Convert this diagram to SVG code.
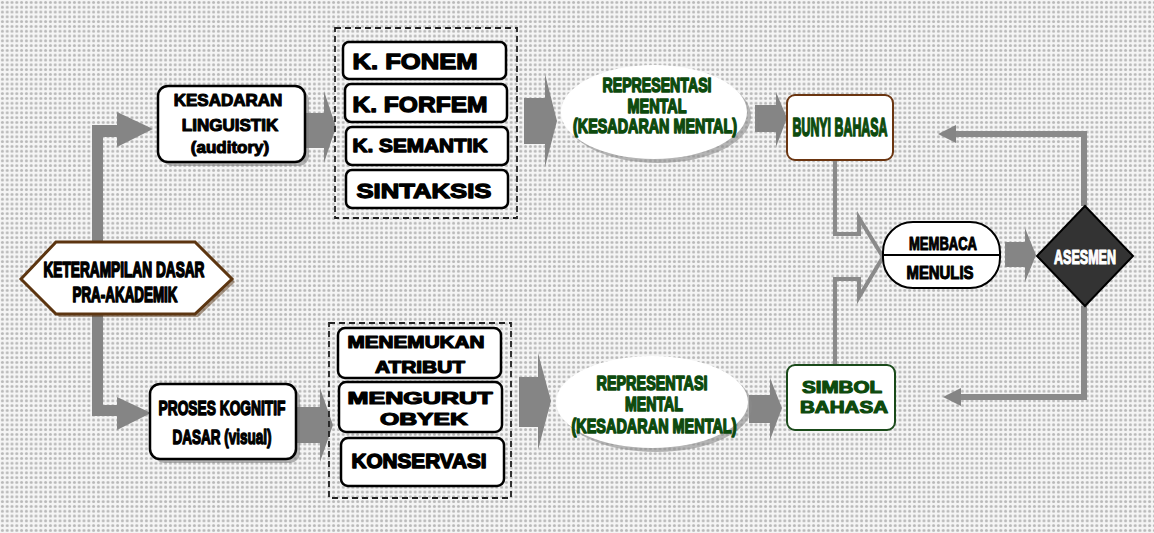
<svg xmlns="http://www.w3.org/2000/svg" width="1154" height="533" viewBox="0 0 1154 533">
<defs>
<pattern id="dots" width="4.8" height="4.8" patternUnits="userSpaceOnUse">
<rect width="4.8" height="4.8" fill="#f5f5f5"/>
<circle cx="2.4" cy="2.4" r="1.5" fill="#b8b8b8"/>
</pattern>
</defs>
<style>
.box{fill:#fff;stroke:#000;stroke-width:2.5}
.shd{fill:#7a7a7a;opacity:0.55}
.arr{fill:#858585}
.ln{fill:none;stroke:#8a8a8a}
.t{font-family:"Liberation Sans",Arial,sans-serif;font-weight:bold;text-anchor:middle;fill:#000;stroke:#000;stroke-width:1;stroke-linejoin:round}
.g{fill:#0d4a0d;stroke:#0d4a0d}
.w{fill:#fff;stroke:#fff}
</style>
<rect width="1154" height="533" fill="url(#dots)"/>

<g id="connectors">
<path class="arr" d="M92,246 L92,125 L117,125 L117,112 L153,129 L117,147 L117,137 L103,137 L103,246 Z"/>
<path class="arr" d="M92,312 L92,416 L117,416 L117,430 L151,413 L117,397 L117,405 L103,405 L103,312 Z"/>
<path class="arr" d="M305,113 L324,113 L324,91 L336,127 L324,163 L324,148 L305,148 Z"/>
<path class="arr" d="M524,98 L545,98 L545,74 L557,121 L545,167 L545,144 L524,144 Z"/>
<path class="arr" d="M755,105 L776,105 L776,92 L787,118 L776,147 L776,132 L755,132 Z"/>
<path class="arr" d="M296,407 L320,407 L320,388 L333,425 L320,462 L320,443 L296,443 Z"/>
<path class="arr" d="M519,377 L538,377 L538,353 L551,401 L538,450 L538,427 L519,427 Z"/>
<path class="arr" d="M749,395 L770,395 L770,378 L782,408 L770,440 L770,423 L749,423 Z"/>
<path class="ln" stroke-width="4" d="M835,160 L835,234 L859,234 L859,218 L883,257 L859,297 L859,279 L835,279 L835,366"/>
<path class="arr" d="M1005,242 L1025,242 L1025,228 L1036,255 L1025,282 L1025,267 L1005,267 Z"/>
<path class="ln" stroke-width="6" d="M1084,206 L1084,134 L955,134"/>
<path class="arr" d="M956,125 L938,134 L956,143 Z"/>
<path class="ln" stroke-width="6" d="M1084,306 L1084,397 L960,397"/>
<path class="arr" d="M961,388 L943,397 L961,406 Z"/>
</g>

<g id="hexagon">
<polygon points="24,282 59,245 198,245 235,282 198,317 59,317" fill="#5a3a1a" opacity="0.5"/>
<polygon points="21,279 56,242 195,242 232,279 195,314 56,314" fill="#fff" stroke="#5c3510" stroke-width="3"/>
<text class="t" x="124" y="277" font-size="22" textLength="161" lengthAdjust="spacingAndGlyphs" style="stroke-width:1.7">KETERAMPILAN DASAR</text>
<text class="t" x="125" y="302" font-size="22" textLength="105" lengthAdjust="spacingAndGlyphs" style="stroke-width:1.7">PRA-AKADEMIK</text>
</g>

<g id="kesadaran">
<rect class="shd" x="162" y="90" width="147" height="76" rx="10"/>
<rect class="box" x="158" y="86" width="147" height="76" rx="10"/>
<text class="t" x="228" y="106" font-size="17" style="stroke-width:1.1">KESADARAN</text>
<text class="t" x="230" y="131" font-size="17" style="stroke-width:1.1">LINGUISTIK</text>
<text class="t" x="230" y="153" font-size="17" style="stroke-width:1.1">(auditory)</text>
</g>

<g id="proses">
<rect class="shd" x="154" y="388" width="146" height="75" rx="10"/>
<rect class="box" x="150" y="384" width="146" height="75" rx="10"/>
<text class="t" x="222" y="415" font-size="21" textLength="127" lengthAdjust="spacingAndGlyphs" style="stroke-width:1.5">PROSES KOGNITIF</text>
<text class="t" x="222" y="444" font-size="21" textLength="99" lengthAdjust="spacingAndGlyphs" style="stroke-width:1.5">DASAR (visual)</text>
</g>

<g id="group-linguistik">
<rect x="335" y="28" width="182" height="190" fill="none" stroke="#222" stroke-width="1.8" stroke-dasharray="6,4"/>
</g>
<g id="k-fonem">
<rect class="box" x="343" y="42" width="163" height="37" rx="6" stroke-width="2"/>
<text class="t" x="415" y="69" font-size="22" textLength="125" lengthAdjust="spacingAndGlyphs" style="stroke-width:1.3">K. FONEM</text>
</g>
<g id="k-forfem">
<rect class="box" x="345" y="84" width="162" height="38" rx="6" stroke-width="2"/>
<text class="t" x="420" y="112" font-size="22" textLength="135" lengthAdjust="spacingAndGlyphs" style="stroke-width:1.3">K. FORFEM</text>
</g>
<g id="k-semantik">
<rect class="box" x="346" y="127" width="162" height="38" rx="6" stroke-width="2"/>
<text class="t" x="420" y="152" font-size="19" textLength="135" lengthAdjust="spacingAndGlyphs" style="stroke-width:1.3">K. SEMANTIK</text>
</g>
<g id="sintaksis">
<rect class="box" x="346" y="170" width="162" height="38" rx="6" stroke-width="2"/>
<text class="t" x="424" y="198" font-size="21" textLength="135" lengthAdjust="spacingAndGlyphs" style="stroke-width:1.3">SINTAKSIS</text>
</g>

<g id="group-kognitif">
<rect x="329" y="323" width="182" height="175" fill="none" stroke="#222" stroke-width="1.8" stroke-dasharray="6,4"/>
</g>
<g id="menemukan">
<rect class="box" x="338" y="328" width="163" height="50" rx="7" stroke="#d01818" stroke-width="2"/>
<text class="t" x="416" y="348" font-size="17" textLength="137" lengthAdjust="spacingAndGlyphs" style="stroke-width:1.2">MENEMUKAN</text>
<text class="t" x="420" y="373" font-size="17" textLength="90" lengthAdjust="spacingAndGlyphs" style="stroke-width:1.2">ATRIBUT</text>
</g>
<g id="mengurut">
<rect class="box" x="339" y="382" width="163" height="50" rx="7" stroke="#404040" stroke-width="2"/>
<text class="t" x="420" y="404" font-size="17" textLength="145" lengthAdjust="spacingAndGlyphs" style="stroke-width:1.2">MENGURUT</text>
<text class="t" x="424" y="425" font-size="17" textLength="88" lengthAdjust="spacingAndGlyphs" style="stroke-width:1.2">OBYEK</text>
</g>
<g id="konservasi">
<rect class="box" x="341" y="438" width="163" height="48" rx="7" stroke-width="2"/>
<text class="t" x="419" y="468" font-size="21" textLength="135" lengthAdjust="spacingAndGlyphs" style="stroke-width:1.5">KONSERVASI</text>
</g>

<g id="repr-top">
<ellipse cx="658" cy="116" rx="93" ry="47" fill="#8a8a8a" opacity="0.6"/>
<ellipse cx="654" cy="112" rx="93" ry="47" fill="#fff"/>
<text class="t g" x="657" y="92" font-size="19.5" textLength="109" lengthAdjust="spacingAndGlyphs" style="stroke-width:1.5">REPRESENTASI</text>
<text class="t g" x="657" y="113" font-size="19.5" textLength="59" lengthAdjust="spacingAndGlyphs" style="stroke-width:1.5">MENTAL</text>
<text class="t g" x="655" y="133" font-size="19.5" textLength="164" lengthAdjust="spacingAndGlyphs" style="stroke-width:1.5">(KESADARAN MENTAL)</text>
</g>

<g id="repr-bottom">
<ellipse cx="656" cy="406" rx="96" ry="46" fill="#8a8a8a" opacity="0.6"/>
<ellipse cx="652" cy="402" rx="96" ry="46" fill="#fff"/>
<text class="t g" x="652" y="390" font-size="19.5" textLength="111" lengthAdjust="spacingAndGlyphs" style="stroke-width:1.5">REPRESENTASI</text>
<text class="t g" x="654" y="411" font-size="19.5" textLength="58" lengthAdjust="spacingAndGlyphs" style="stroke-width:1.5">MENTAL</text>
<text class="t g" x="654" y="433" font-size="19.5" textLength="165" lengthAdjust="spacingAndGlyphs" style="stroke-width:1.5">(KESADARAN MENTAL)</text>
</g>

<g id="bunyi">
<rect x="787" y="95" width="106" height="65" rx="8" fill="#fff" stroke="#6b3510" stroke-width="2"/>
<text class="t g" x="840" y="136" font-size="26" textLength="95" lengthAdjust="spacingAndGlyphs" style="stroke-width:1.7">BUNYI BAHASA</text>
</g>

<g id="simbol">
<rect x="787" y="365" width="108" height="65" rx="8" fill="#fff" stroke="#1a4a1a" stroke-width="2"/>
<text class="t g" x="842" y="393" font-size="16" textLength="80" lengthAdjust="spacingAndGlyphs" style="stroke-width:1.1">SIMBOL</text>
<text class="t g" x="844" y="413" font-size="16" textLength="88" lengthAdjust="spacingAndGlyphs" style="stroke-width:1.1">BAHASA</text>
</g>

<g id="membaca">
<rect x="883" y="222" width="117" height="66" rx="30" fill="#fff" stroke="#000" stroke-width="2"/>
<line x1="884" y1="255" x2="999" y2="255" stroke="#000" stroke-width="2"/>
<text class="t" x="943" y="250" font-size="18" textLength="68" lengthAdjust="spacingAndGlyphs" style="stroke-width:1.1">MEMBACA</text>
<text class="t" x="940" y="279" font-size="18" textLength="67" lengthAdjust="spacingAndGlyphs" style="stroke-width:1.1">MENULIS</text>
</g>

<g id="asesmen">
<polygon points="1085,206 1133,256 1085,306 1037,256" fill="#333" stroke="#000" stroke-width="2"/>
<text class="t w" x="1085" y="264" font-size="21" textLength="62" lengthAdjust="spacingAndGlyphs" style="stroke-width:1.2">ASESMEN</text>
</g>
</svg>
